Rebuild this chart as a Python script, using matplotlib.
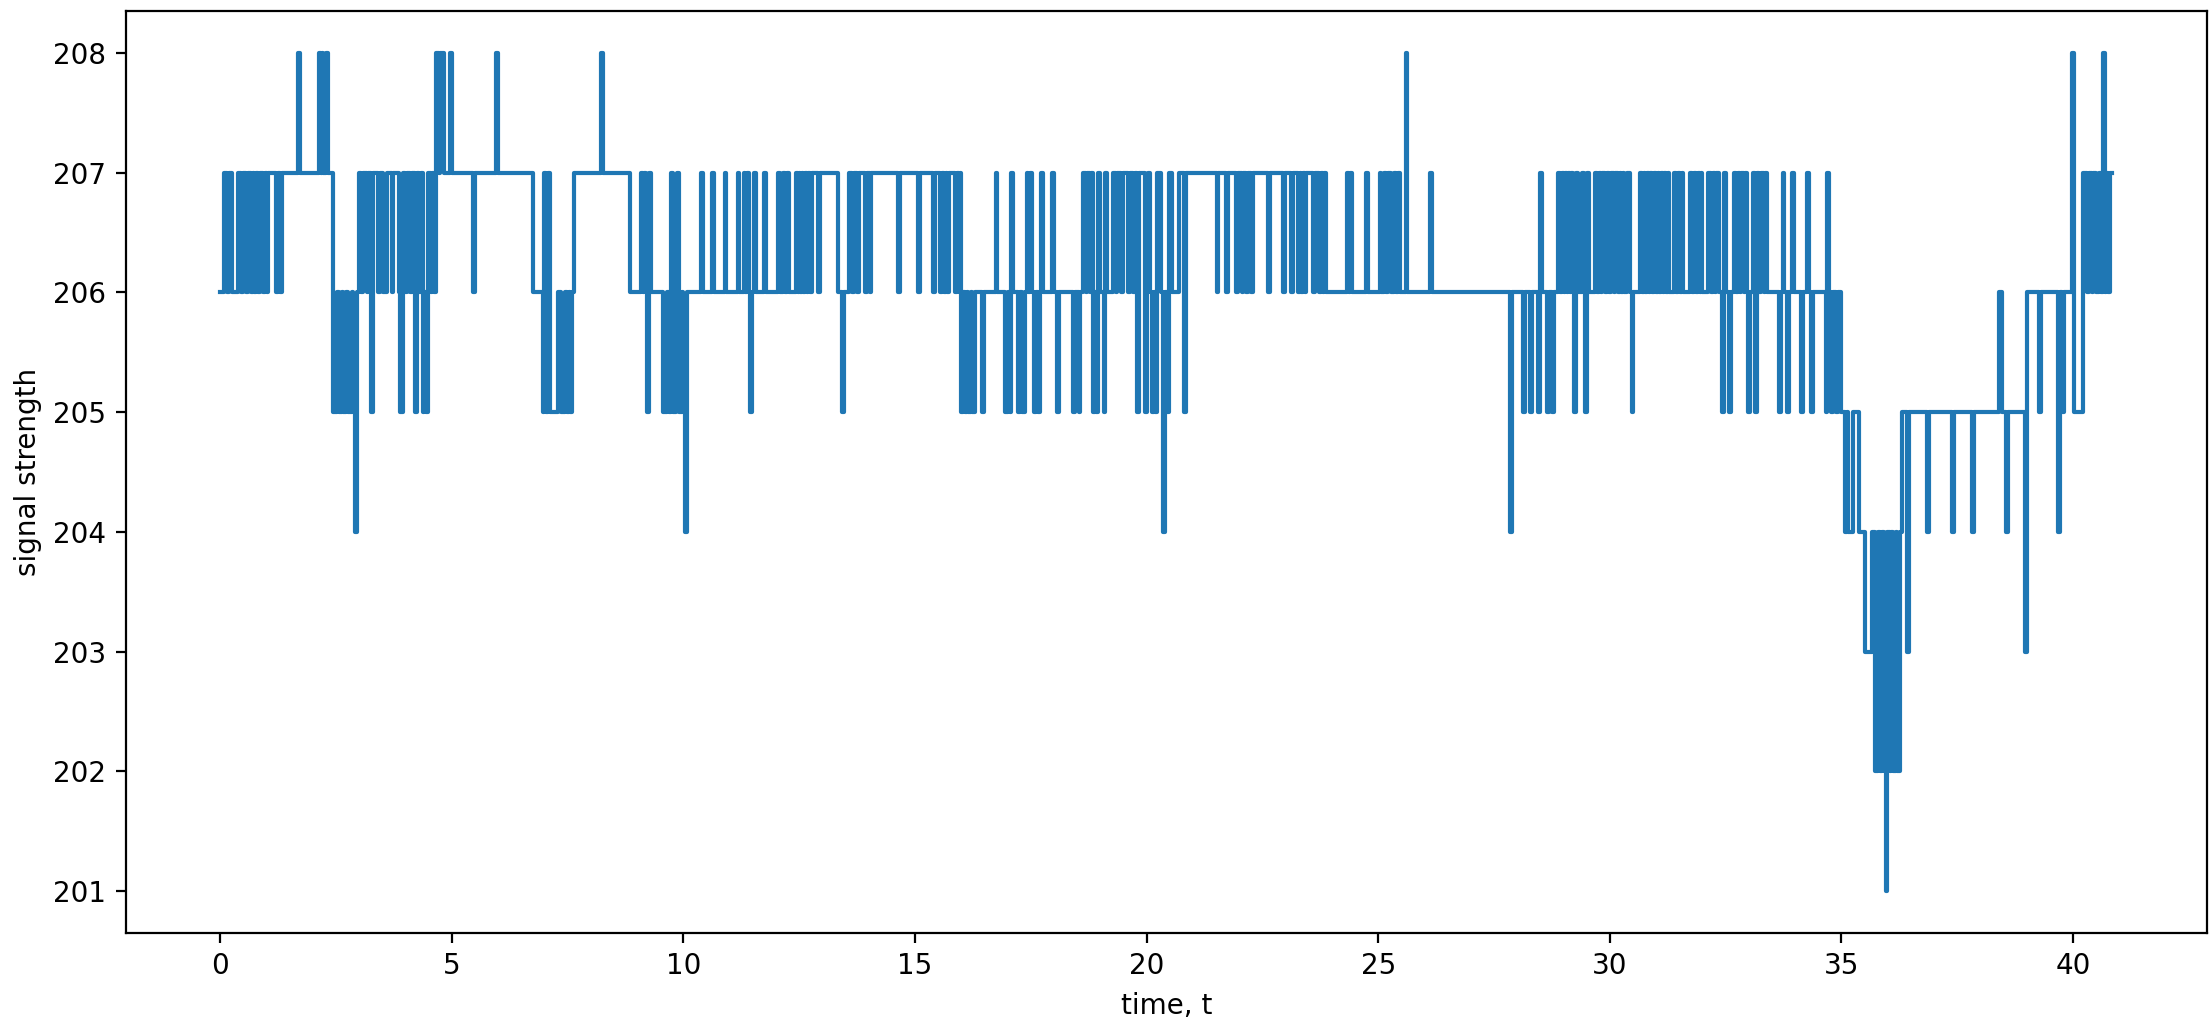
import matplotlib.pyplot as plt

# change points of the trace: time where the reading switches, and the new level
t_a = [0.00, 0.09, 0.14, 0.18, 0.25, 0.39, 0.45, 0.50, 0.56, 0.60, 0.66, 0.70, 0.74, 0.78, 0.82, 0.86,
       0.92, 0.96, 1.00, 1.03, 1.20, 1.24, 1.30, 1.34, 1.69, 1.73, 2.13, 2.17, 2.19, 2.23, 2.29, 2.33]
s_a = [206, 207, 206, 207, 206, 207, 206, 207, 206, 207, 206, 207, 206, 207, 206, 207,
       206, 207, 206, 207, 206, 207, 206, 207, 208, 207, 208, 207, 208, 207, 208, 207]

t_b = [2.44, 2.53, 2.56, 2.62, 2.65, 2.72, 2.75, 2.84, 2.87, 2.92, 2.95, 2.99, 3.05, 3.09, 3.16, 3.20,
       3.25, 3.29, 3.40, 3.44, 3.52, 3.60, 3.70, 3.74, 3.86, 3.89, 3.94, 4.00, 4.04, 4.10, 4.14, 4.20,
       4.24, 4.30, 4.34, 4.37, 4.41, 4.44, 4.48, 4.55, 4.58, 4.62, 4.66, 4.72, 4.75, 4.84]
s_b = [205, 206, 205, 206, 205, 206, 205, 206, 205, 204, 206, 207, 206, 207, 206, 207,
       205, 207, 206, 207, 206, 207, 206, 207, 206, 205, 207, 206, 207, 206, 207, 205,
       207, 206, 207, 205, 206, 205, 207, 206, 207, 206, 208, 207, 208, 207]

t_c = [4.96, 5.00, 5.46, 5.50, 5.96, 6.00, 6.75, 6.96, 6.99, 7.03, 7.08, 7.12, 7.30, 7.36, 7.44, 7.48,
       7.52, 7.56, 7.60, 7.64, 8.23, 8.27, 8.85, 9.09, 9.13, 9.15, 9.19, 9.22, 9.25, 9.31, 9.57, 9.64,
       9.68, 9.74, 9.78, 9.84, 9.87, 9.91, 9.97, 10.00, 10.03, 10.07]
s_c = [208, 207, 206, 207, 208, 207, 206, 205, 207, 205, 207, 205, 206, 205, 206, 205,
       206, 205, 206, 207, 208, 207, 206, 207, 206, 207, 206, 205, 207, 206, 205, 206,
       205, 207, 205, 206, 207, 205, 206, 205, 204, 206]

t_d = [10.38, 10.42, 10.61, 10.65, 10.89, 10.93, 11.17, 11.21, 11.30, 11.34, 11.37, 11.41,
       11.44, 11.48, 11.53, 11.57, 11.75, 11.79, 12.05, 12.09, 12.16, 12.20, 12.23, 12.27,
       12.43, 12.47, 12.49, 12.52, 12.55, 12.59, 12.62, 12.67, 12.70, 12.74, 12.77,
       12.91, 12.95, 13.33, 13.42, 13.46,
       13.58, 13.65, 13.69, 13.74, 13.80,
       13.93, 13.97, 14.02, 14.05, 14.63,
       14.67, 15.07, 15.11, 15.39, 15.43,
       15.55, 15.59, 15.63, 15.67, 15.70,
       15.74, 15.87, 15.91, 15.95, 15.98]
s_d = [207, 206, 207, 206, 207, 206, 207, 206, 207, 206, 207, 206,
       205, 206, 207, 206, 207, 206, 207, 206, 207, 206, 207, 206,
       207, 206, 207, 206, 207, 206, 207, 206, 207, 206, 207,
       206, 207, 206, 205, 206,
       207, 206, 207, 206, 207,
       206, 207, 206, 207, 206,
       207, 206, 207, 206, 207,
       206, 207, 206, 207, 206,
       207, 206, 207, 206, 207]

t_e = [16.00, 16.04, 16.07, 16.12, 16.15, 16.20, 16.24, 16.30, 16.45, 16.49,
       16.74, 16.78, 16.95, 17.00, 17.05, 17.08, 17.12, 17.22, 17.26, 17.32,
       17.37, 17.41, 17.45, 17.49, 17.53, 17.57, 17.61, 17.66, 17.70, 17.73,
       17.77, 17.95, 17.99, 18.07, 18.11, 18.42, 18.46, 18.53, 18.57, 18.63,
       18.69, 18.72, 18.78, 18.81, 18.85, 18.88, 18.90, 18.94, 19.00, 19.07,
       19.11, 19.15, 19.28, 19.34, 19.37, 19.45, 19.49, 19.60, 19.64, 19.70,
       19.76, 19.80, 19.84, 19.96, 20.00, 20.03, 20.07, 20.11, 20.15, 20.19,
       20.22, 20.30, 20.36, 20.40, 20.45, 20.49, 20.54, 20.70, 20.80, 20.84]
s_e = [205, 206, 205, 206, 205, 206, 205, 206, 205, 206,
       207, 206, 205, 206, 205, 207, 206, 205, 206, 205,
       206, 207, 206, 207, 206, 205, 206, 205, 206, 207,
       206, 207, 206, 205, 206, 205, 206, 205, 206, 207,
       206, 207, 206, 207, 205, 206, 205, 207, 206, 205,
       207, 206, 207, 206, 207, 206, 207, 206, 207, 206,
       207, 205, 207, 205, 206, 207, 206, 205, 206, 205,
       207, 206, 204, 206, 205, 207, 206, 207, 205, 207]

t_f = [21.51, 21.55, 21.71, 21.75, 21.94, 21.98, 22.05, 22.09, 22.14, 22.18,
       22.26, 22.30, 22.62, 22.66, 22.94, 22.98, 23.12, 23.16, 23.27, 23.31,
       23.34, 23.38, 23.41, 23.45, 23.59, 23.63, 23.73, 23.77, 23.80, 23.84,
       23.88, 24.33, 24.37, 24.40, 24.44, 24.74, 24.78, 25.03, 25.07, 25.12,
       25.16, 25.22, 25.27, 25.35, 25.39, 25.42, 25.46, 25.59, 25.63, 26.12,
       26.16, 27.85, 27.89]
s_f = [206, 207, 206, 207, 206, 207, 206, 207, 206, 207,
       206, 207, 206, 207, 206, 207, 206, 207, 206, 207,
       206, 207, 206, 207, 206, 207, 206, 207, 206, 207,
       206, 207, 206, 207, 206, 207, 206, 207, 206, 207,
       206, 207, 206, 207, 206, 207, 206, 208, 206, 207,
       206, 204, 206]

t_g = [28.12, 28.16, 28.28, 28.32, 28.45, 28.49, 28.53, 28.65, 28.69, 28.76,
       28.80, 28.89, 28.93, 28.96, 29.00, 29.03, 29.07, 29.10, 29.13, 29.16,
       29.20, 29.23, 29.27, 29.32, 29.40, 29.45, 29.47, 29.51, 29.55, 29.68,
       29.73, 29.76, 29.80, 29.84, 29.90, 29.94, 29.98, 30.02, 30.08, 30.12,
       30.17, 30.21, 30.25, 30.28, 30.31, 30.37, 30.44, 30.47, 30.51, 30.66,
       30.70, 30.73, 30.76, 30.80, 30.84, 30.87, 30.92, 30.95, 30.99, 31.03,
       31.06, 31.10, 31.14, 31.18, 31.22, 31.25, 31.28, 31.38, 31.43, 31.47,
       31.52, 31.55, 31.59, 31.73, 31.78, 31.82, 31.86, 31.90, 31.95, 31.97,
       32.00, 32.13, 32.18, 32.22, 32.27, 32.30, 32.36, 32.43, 32.47, 32.51,
       32.58, 32.62, 32.67, 32.72, 32.76, 32.80, 32.84, 32.89, 32.92, 32.96,
       32.98, 33.02, 33.10, 33.14, 33.18, 33.23, 33.27, 33.32, 33.36, 33.40,
       33.65, 33.69, 33.73, 33.77, 33.83, 33.87, 33.94, 33.98, 34.12, 34.16,
       34.25, 34.29, 34.34, 34.38, 34.66, 34.69, 34.73, 34.77, 34.81, 34.88,
       34.92]
s_g = [205, 206, 205, 206, 205, 207, 206, 205, 206, 205,
       206, 207, 206, 207, 206, 207, 206, 207, 206, 207,
       206, 205, 207, 206, 207, 206, 205, 207, 206, 207,
       206, 207, 206, 207, 206, 207, 206, 207, 206, 207,
       206, 207, 206, 207, 206, 207, 206, 205, 206, 207,
       206, 207, 206, 207, 206, 207, 206, 207, 206, 207,
       206, 207, 206, 207, 206, 207, 206, 207, 206, 207,
       206, 207, 206, 207, 206, 207, 206, 207, 206, 207,
       206, 207, 206, 207, 206, 207, 206, 205, 207, 206,
       205, 206, 207, 206, 207, 206, 207, 206, 207, 206,
       205, 206, 207, 205, 207, 206, 207, 206, 207, 206,
       205, 206, 207, 206, 205, 206, 207, 206, 205, 206,
       207, 206, 205, 206, 205, 207, 206, 205, 206, 205,
       206]

t_h = [35.00, 35.08, 35.12, 35.15, 35.25, 35.38, 35.51, 35.66, 35.72, 35.78,
       35.83, 35.88, 35.92, 35.96, 35.99, 36.04, 36.08, 36.12, 36.17, 36.21,
       36.26, 36.30, 36.41, 36.46, 36.84, 36.88, 37.38, 37.42, 37.82, 37.86,
       38.40, 38.47, 38.55, 38.60, 38.96, 39.00, 39.26, 39.30, 39.68, 39.72,
       39.76, 39.80, 39.97, 40.03, 40.22, 40.30, 40.34, 40.40, 40.44, 40.50,
       40.55, 40.60, 40.65, 40.69, 40.72, 40.76, 40.80]
s_h = [205, 204, 205, 204, 205, 204, 203, 204, 202, 204,
       202, 204, 202, 201, 204, 202, 204, 202, 204, 202,
       204, 205, 203, 205, 204, 205, 204, 205, 204, 205,
       206, 205, 204, 205, 203, 206, 205, 206, 204, 206,
       205, 206, 208, 205, 207, 206, 207, 206, 207, 206,
       207, 206, 208, 206, 207, 206, 207]

t_end = 40.85

time = []
signal = []
for tt, ss in [(t_a, s_a), (t_b, s_b), (t_c, s_c), (t_d, s_d),
               (t_e, s_e), (t_f, s_f), (t_g, s_g), (t_h, s_h)]:
    for t, s in zip(tt, ss, strict=True):
        time.append(t)
        signal.append(s)
time.append(t_end)
signal.append(signal[-1])

fig = plt.figure(figsize=(2211 / 200, 1018 / 200), dpi=200)
ax = fig.add_axes([0.0568, 0.0835, 0.9414, 0.9057])
ax.step(time, signal, where='post', color='#1f77b4', linewidth=1.5)
ax.set_xlabel('time, t')
ax.set_ylabel('signal strength')
fig.savefig('out.png', dpi=200)
